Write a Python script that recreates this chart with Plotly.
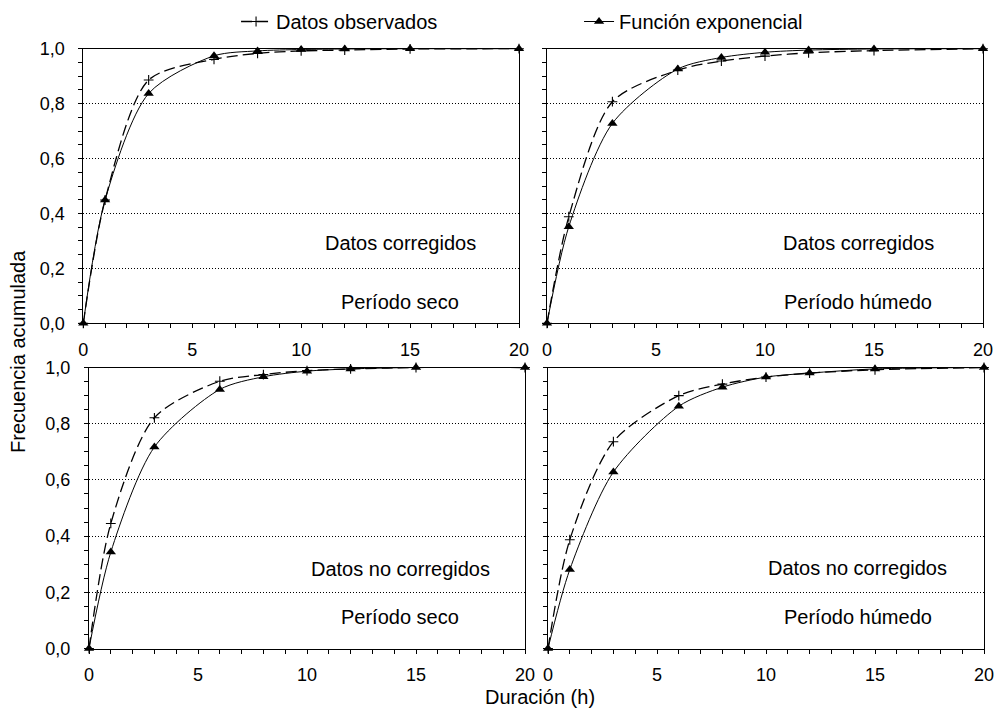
import plotly.graph_objects as go

# ---------------- data ----------------
hours = [0, 1, 3, 6, 8, 10, 12, 15, 20]

# corrected data, dry period
obs_corr_dry = [0.0, 0.449, 0.886, 0.961, 0.983, 0.992, 0.995, 0.999, 1.0]
exp_corr_dry = [0.0, 0.449, 0.837, 0.974, 0.992, 0.997, 0.999, 1.0, 1.0]
# corrected data, wet period
obs_corr_wet = [0.0, 0.388, 0.807, 0.922, 0.955, 0.973, 0.985, 0.993, 1.0]
exp_corr_wet = [0.0, 0.352, 0.728, 0.926, 0.968, 0.987, 0.995, 0.999, 1.0]
# uncorrected data, dry period
obs_unc_dry = [0.0, 0.445, 0.821, 0.951, 0.975, 0.989, 0.995, 1.0, 1.0]
exp_unc_dry = [0.0, 0.343, 0.717, 0.922, 0.967, 0.987, 0.995, 1.0, 1.0]
# uncorrected data, wet period
obs_unc_wet = [0.0, 0.387, 0.736, 0.900, 0.941, 0.966, 0.980, 0.992, 1.0]
exp_unc_wet = [0.0, 0.281, 0.628, 0.862, 0.930, 0.966, 0.980, 0.995, 1.0]

legend_names = ["Datos observados", "Función exponencial"]
label_top = ["Datos corregidos", "Datos corregidos", "Datos no corregidos", "Datos no corregidos"]
label_bottom = ["Período seco", "Período húmedo", "Período seco", "Período húmedo"]
x_tick_vals = [0, 5, 10, 15, 20]
y_tick_vals = [0.0, 0.2, 0.4, 0.6, 0.8, 1.0]
x_title = "Duración (h)"
y_title = "Frecuencia acumulada"

# --------------- figure ---------------
W, H = 996, 708
FONT = "Liberation Sans, Arial, sans-serif"

panels = [
    (obs_corr_dry, exp_corr_dry),
    (obs_corr_wet, exp_corr_wet),
    (obs_unc_dry, exp_unc_dry),
    (obs_unc_wet, exp_unc_wet),
]
# pixel boxes of each plot area: (x0, x1, ytop, ybottom)
boxes = [
    (83.3, 519.0, 48.7, 323.3),
    (547.0, 983.0, 48.7, 323.3),
    (89.0, 525.0, 367.5, 648.5),
    (548.0, 984.0, 367.5, 648.5),
]
# annotation positions in data units
ann_x = [14.54, 14.27, 14.27, 14.2]
ann_y_top = [0.292, 0.292, 0.283, 0.286]
ann_y_bot = [0.078, 0.078, 0.112, 0.112]

fig = go.Figure()
layout = dict(
    width=W, height=H,
    margin=dict(l=0, r=0, t=0, b=0, autoexpand=False),
    paper_bgcolor="white", plot_bgcolor="white",
    font=dict(family=FONT, size=20, color="black"),
    separators=", ",
    showlegend=True,
    legend=dict(orientation="h", x=0.237, xanchor="left", y=1 - 2 / H, yanchor="top",
                font=dict(size=20), entrywidth=298, entrywidthmode="pixels",
                bgcolor="rgba(0,0,0,0)", borderwidth=0, itemsizing="trace"),
)

annotations = []
for i, ((obs, ex), (x0, x1, yt, yb)) in enumerate(zip(panels, boxes)):
    n = "" if i == 0 else str(i + 1)
    xa, ya = "x" + n, "y" + n
    fig.add_trace(go.Scatter(
        x=hours, y=obs, xaxis=xa, yaxis=ya, name=legend_names[0],
        mode="lines+markers", line=dict(color="black", width=1.3, dash="11px,5px", shape="spline", smoothing=0.8),
        marker=dict(symbol="cross-thin", size=7, line=dict(color="black", width=1.1)),
        showlegend=(i == 0), cliponaxis=False,
    ))
    fig.add_trace(go.Scatter(
        x=hours, y=ex, xaxis=xa, yaxis=ya, name=legend_names[1],
        mode="lines+markers", line=dict(color="black", width=1, shape="spline", smoothing=0.8),
        marker=dict(symbol="triangle-up", size=9, color="black"),
        showlegend=(i == 0), cliponaxis=False,
    ))
    axx = dict(
        domain=[x0 / W, x1 / W], range=[0, 20], anchor=ya,
        showline=True, linecolor="black", linewidth=1, mirror=True,
        ticks="outside", ticklen=4, tickcolor="black", tickwidth=1,
        tickvals=x_tick_vals, showgrid=False, zeroline=False,
        tickfont=dict(size=18), ticklabelstandoff=6,
        minor=dict(dtick=1, ticks="outside", ticklen=4, tickcolor="black", showgrid=False),
    )
    axy = dict(
        domain=[1 - yb / H, 1 - yt / H], range=[0, 1], anchor=xa,
        showline=True, linecolor="black", linewidth=1, mirror=True,
        ticks="outside", ticklen=4, tickcolor="black", tickwidth=1,
        tickvals=y_tick_vals, tickformat=".1f", showticklabels=(i % 2 == 0),
        showgrid=True, gridcolor="black", gridwidth=1, griddash="1px,2px",
        zeroline=False, tickfont=dict(size=18), ticklabelstandoff=10,
        minor=dict(dtick=0.05, ticks="outside", ticklen=4, tickcolor="black", showgrid=False),
    )
    layout["xaxis" + n] = axx
    layout["yaxis" + n] = axy
    annotations.append(dict(x=ann_x[i], y=ann_y_top[i], xref=xa, yref=ya, text=label_top[i],
                            showarrow=False, font=dict(size=20)))
    annotations.append(dict(x=ann_x[i], y=ann_y_bot[i], xref=xa, yref=ya, text=label_bottom[i],
                            showarrow=False, font=dict(size=20)))

annotations.append(dict(x=540 / W, y=1 - 697 / H, xref="paper", yref="paper", text=x_title,
                        xanchor="center", yanchor="middle", showarrow=False, font=dict(size=20)))
annotations.append(dict(x=18 / W, y=1 - 352 / H, xref="paper", yref="paper", text=y_title,
                        xanchor="center", yanchor="middle", showarrow=False, textangle=-90,
                        font=dict(size=20)))
layout["annotations"] = annotations
fig.update_layout(**layout)
fig.write_html("out.html")
